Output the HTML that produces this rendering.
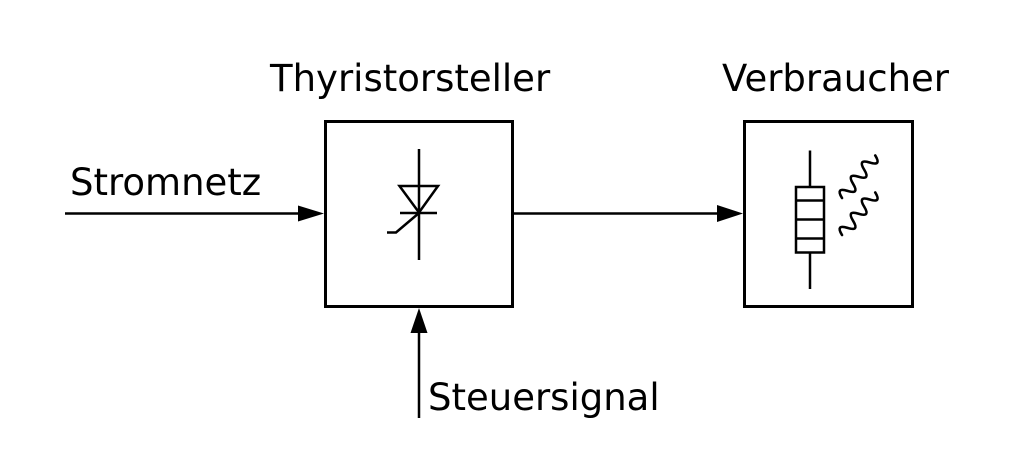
<!DOCTYPE html>
<html>
<head>
<meta charset="utf-8">
<style>
  html, body { margin: 0; padding: 0; background: #fff; }
  svg { display: block; }
  text { font-family: "DejaVu Sans", "Liberation Sans", sans-serif; font-size: 37px; fill: #000; }
</style>
</head>
<body>
<svg width="1024" height="465" viewBox="0 0 1024 465" xmlns="http://www.w3.org/2000/svg">
  <rect x="0" y="0" width="1024" height="465" fill="#fff"/>

  <!-- Labels -->
  <text x="270" y="91">Thyristorsteller</text>
  <text x="722" y="91">Verbraucher</text>
  <text x="70" y="195">Stromnetz</text>
  <text x="428" y="410">Steuersignal</text>

  <!-- Boxes -->
  <rect x="325.5" y="121.5" width="187" height="185" fill="none" stroke="#000" stroke-width="3"/>
  <rect x="744.5" y="121.5" width="168" height="185" fill="none" stroke="#000" stroke-width="3"/>

  <!-- Input arrow -->
  <line x1="65" y1="213.5" x2="300" y2="213.5" stroke="#000" stroke-width="2.5"/>
  <polygon points="298,205.5 324,213.5 298,221.5" fill="#000"/>

  <!-- Middle arrow -->
  <line x1="513" y1="213.5" x2="720" y2="213.5" stroke="#000" stroke-width="2.5"/>
  <polygon points="717,205 743,213.5 717,222" fill="#000"/>

  <!-- Control arrow -->
  <line x1="419" y1="418" x2="419" y2="330" stroke="#000" stroke-width="2.5"/>
  <polygon points="410.5,333 419,308 427.5,333" fill="#000"/>

  <!-- Thyristor symbol -->
  <g stroke="#000" stroke-width="2.5" fill="none">
    <line x1="419" y1="149" x2="419" y2="260"/>
    <polygon points="399.5,186 438,186 419,212.5"/>
    <line x1="400" y1="213" x2="437" y2="213"/>
    <polyline points="419,213 396,232.5 387,232.5"/>
  </g>

  <!-- Resistor symbol -->
  <g stroke="#000" stroke-width="2.5" fill="none">
    <line x1="810" y1="150.5" x2="810" y2="187"/>
    <line x1="810" y1="252.5" x2="810" y2="289"/>
    <rect x="796" y="187" width="28" height="65.5"/>
    <line x1="796" y1="200.5" x2="824" y2="200.5"/>
    <line x1="796" y1="219.5" x2="824" y2="219.5"/>
    <line x1="796" y1="238.5" x2="824" y2="238.5"/>
  </g>

  <!-- Heat waves -->
  <g stroke="#000" stroke-width="2.6" fill="none" stroke-linecap="round">
    <path transform="translate(842,198) rotate(-52)" d="M0,0 c3,-8 6,-8 9,0 s6,8 9,0 s6,-8 9,0 s6,8 9,0 s6,-8 9,0 s6,8 9,0"/>
    <path transform="translate(842,235) rotate(-52)" d="M0,0 c3,-8 6,-8 9,0 s6,8 9,0 s6,-8 9,0 s6,8 9,0 s6,-8 9,0 s6,8 9,0"/>
  </g>
</svg>
</body>
</html>
